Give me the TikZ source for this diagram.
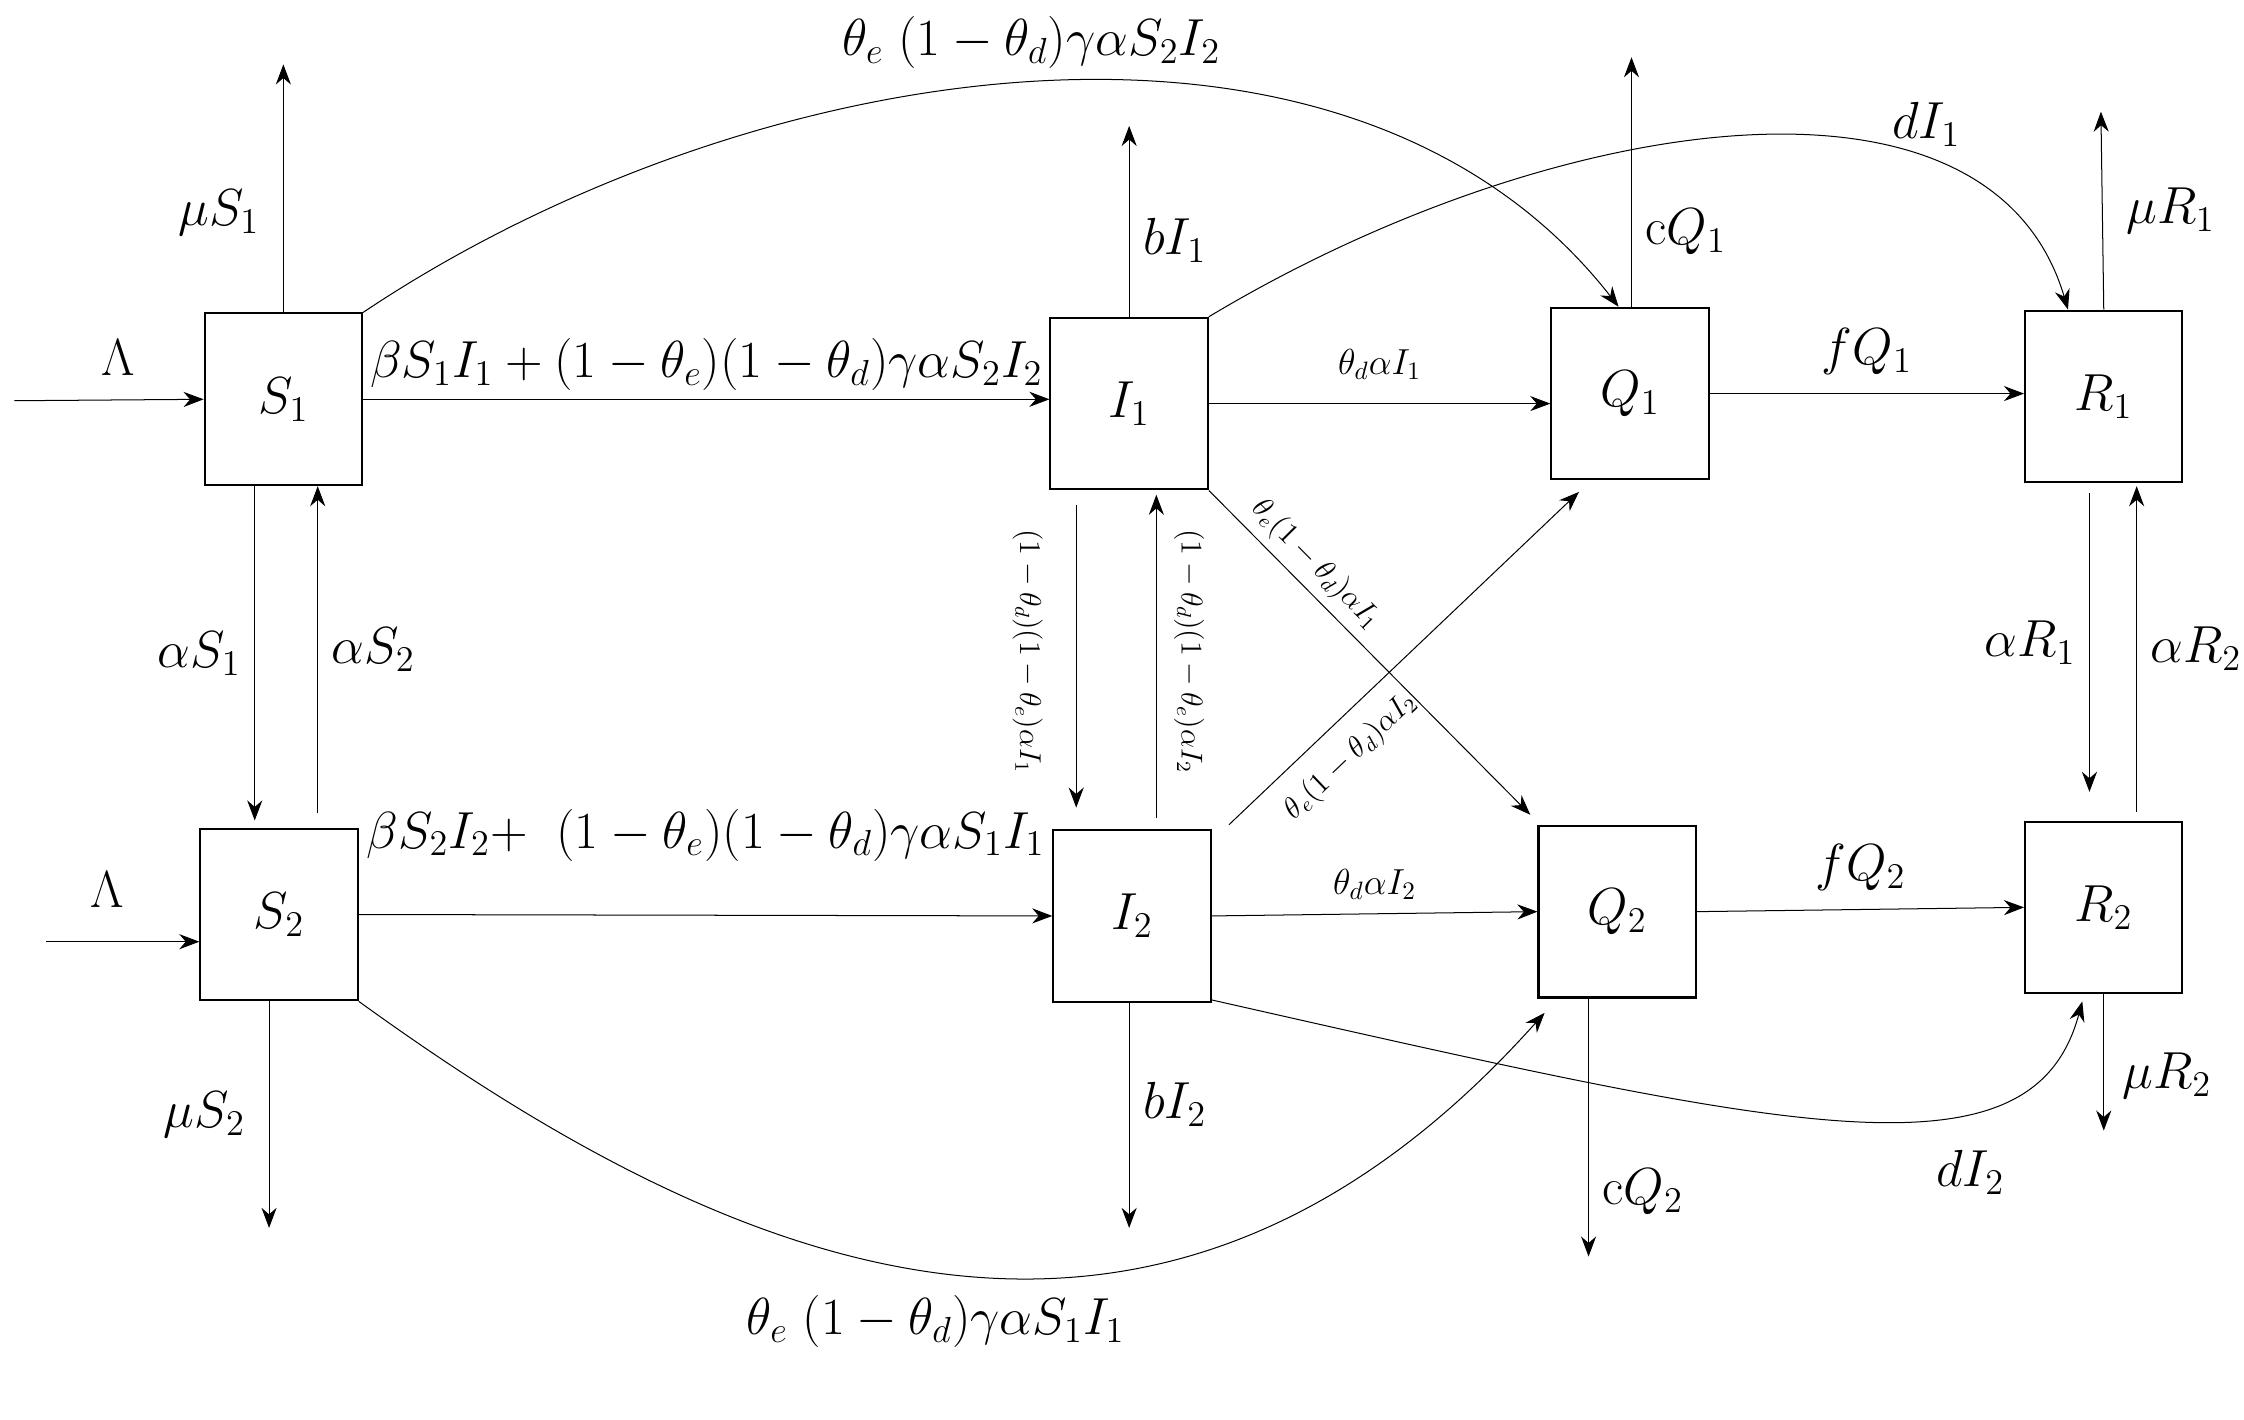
\documentclass[tikz,border=0pt]{standalone}
\usepackage{amsmath}
\usetikzlibrary{arrows.meta,calc}
\tikzset{
  comp/.style={draw,thick,minimum width=2.2cm,minimum height=2.4cm,font=\huge},
  flow/.style={->,>={Stealth[length=8pt,width=6pt]},thin},
  lab/.style={font=\huge},
  slab/.style={font=\Large},
  rlab/.style={font=\large}
}
\begin{document}
\begin{tikzpicture}[x=0.02cm,y=-0.02cm]
    \useasboundingbox (0,0) rectangle (1568,992);
    % compartments
    \node [comp] (S1) at (198,279) {$S_1$};
    \node [comp] (I1) at (789,282) {$I_1$};
    \node [comp] (Q1) at (1139,275) {$Q_1$};
    \node [comp] (R1) at (1470,277) {$R_1$};
    \node [comp] (S2) at (195,639) {$S_2$};
    \node [comp] (I2) at (791,640) {$I_2$};
    \node [comp] (Q2) at (1130,637) {$Q_2$};
    \node [comp] (R2) at (1470,634) {$R_2$};

    % free ends
    \coordinate (in1) at (10,280);
    \coordinate (in2) at (32,658);
    \coordinate (outS1) at (198,45);
    \coordinate (outS2) at (188,858);
    \coordinate (outI1) at (789,88);
    \coordinate (outI2) at (789,858);
    \coordinate (outQ1) at (1140,40);
    \coordinate (outQ2) at (1110,878);
    \coordinate (outR1) at (1468,78);
    \coordinate (outR2) at (1470,790);

    % recruitment and removal
    \draw [flow] (in1) -- (S1.west) node [lab,pos=0.55,above=6pt] {$\Lambda$};
    \draw [flow] (in2) -- (in2 -| S2.west) node [lab,pos=0.4,above=10pt] {$\Lambda$};
    \draw [flow] (S1.north) -- (outS1) node [lab,pos=0.4,left=6pt] {$\mu S_1$};
    \draw [flow] (S2.south -| outS2) -- (outS2) node [lab,pos=0.5,left=6pt] {$\mu S_2$};
    \draw [flow] (I1.north) -- (outI1) node [lab,pos=0.4,right=2pt] {$bI_1$};
    \draw [flow] (I2.south -| outI2) -- (outI2) node [lab,pos=0.45,right=2pt] {$bI_2$};
    \draw [flow] (Q1.north -| outQ1) -- (outQ1) node [lab,pos=0.3,right=2pt] {$\mathrm{c}Q_1$};
    \draw [flow] (Q2.south -| outQ2) -- (outQ2) node [lab,pos=0.75,right=2pt] {$\mathrm{c}Q_2$};
    \draw [flow] (R1.north) -- (outR1) node [lab,pos=0.5,right=6pt] {$\mu R_1$};
    \draw [flow] (R2.south) -- (outR2) node [lab,pos=0.6,right=4pt] {$\mu R_2$};

    % horizontal flows
    \draw [flow] (S1.east) -- (S1.east -| I1.west) node [lab,midway,above=0pt] {$\beta S_1I_1+(1-\theta_e)(1-\theta_d)\gamma\alpha S_2I_2$};
    \draw [flow] (S2.east) -- (I2.west) node [lab,midway,above=18pt] {$\beta S_2I_2{+}\;\;(1-\theta_e)(1-\theta_d)\gamma\alpha S_1I_1$};
    \draw [flow] (I1.east) -- (I1.east -| Q1.west) node [slab,midway,above=6pt] {$\theta_d\alpha I_1$};
    \draw [flow] (I2.east) -- (Q2.west) node [slab,midway,above=2pt] {$\theta_d\alpha I_2$};
    \draw [flow] (Q1.east) -- (Q1.east -| R1.west) node [lab,midway,above=4pt] {$fQ_1$};
    \draw [flow] (Q2.east) -- (R2.west) node [lab,midway,above=4pt] {$fQ_2$};

    % vertical exchanges
    \draw [flow] ($(S1.south)+(-20,0)$) -- ($(S2.north)+(-17,-5)$) node [lab,midway,left=2pt] {$\alpha S_1$};
    \draw [flow] ($(S2.north)+(27,-10)$) -- ($(S1.south)+(24,0)$) node [lab,midway,right=2pt] {$\alpha S_2$};
    \draw [flow] ($(I1.south)+(-37,10)$) -- ($(I2.north)+(-39,-15)$);
    \node [rlab,rotate=-90] (lI1) at (718,455) {$(1-\theta_d)(1-\theta_e)\alpha I_1$};
    \draw [flow] ($(I2.north)+(17,-8)$) -- ($(I1.south)+(19,3)$);
    \node [rlab,rotate=-90] (lI2) at (831,455) {$(1-\theta_d)(1-\theta_e)\alpha I_2$};
    \draw [flow] ($(R1.south)+(-10,7)$) -- ($(R2.north)+(-10,-20)$) node [lab,midway,left=2pt] {$\alpha R_1$};
    \draw [flow] ($(R2.north)+(23,-6)$) -- ($(R1.south)+(23,2)$) node [lab,midway,right=2pt] {$\alpha R_2$};

    % diagonal flows
    \draw [flow] (I1.south east) -- ($(Q2.north west)+(-5,-7)$) node [rlab,pos=0.28,sloped,above] {$\theta_e(1-\theta_d)\alpha I_1$};
    \draw [flow] ($(I2.north east)+(12,-3)$) -- ($(Q1.south west)+(20,8)$) node [rlab,pos=0.28,sloped,below,yshift=-4pt] {$\theta_e(1-\theta_d)\alpha I_2$};

    % long curved flows
    \draw [flow] (S1.north east) .. controls (520,40) and (940,-30) .. ($(Q1.north)+(-8,0)$) node [lab,pos=0.5,above=2pt] {$\theta_e\;(1-\theta_d)\gamma\alpha S_2I_2$};
    \draw [flow] (I1.north east) .. controls (1080,80) and (1390,30) .. ($(R1.north)+(-25,0)$) node [lab,pos=0.72,above=2pt] {$dI_1$};
    \draw [flow] (S2.south east) .. controls (500,880) and (800,1020) .. ($(Q2.south west)+(5,10)$) node [lab,pos=0.5,below=6pt] {$\theta_e\;(1-\theta_d)\gamma\alpha S_1I_1$};
    \draw [flow] ($(I2.south east)+(0,-2)$) .. controls (1250,790) and (1420,830) .. ($(R2.south)+(-15,5)$) node [lab,pos=0.68,below=12pt] {$dI_2$};
\end{tikzpicture}
\end{document}
